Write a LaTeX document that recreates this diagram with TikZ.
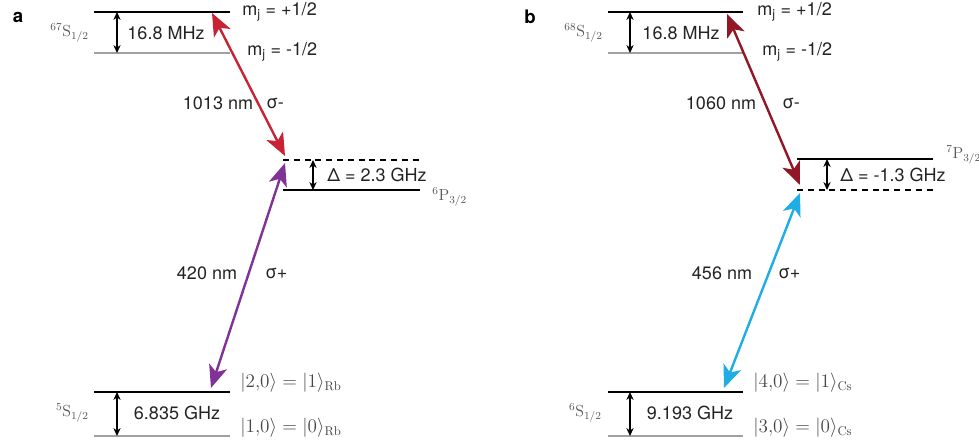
\documentclass[tikz,border=0pt]{standalone}
\usepackage{fontspec}
\setsansfont{TeX Gyre Heros}
\usetikzlibrary{arrows.meta}
\definecolor{cred}{RGB}{200,35,52}
\definecolor{cdred}{RGB}{146,22,38}
\definecolor{cpurple}{RGB}{128,50,150}
\definecolor{cblue}{RGB}{32,172,228}
\definecolor{ctext}{RGB}{35,35,35}
\definecolor{cterm}{RGB}{85,85,85}
\definecolor{cket}{RGB}{70,70,70}
\definecolor{clevel}{RGB}{160,160,160}
\tikzset{
  px/.style={x=0.75pt,y=-0.75pt},
  lvl/.style={line width=1.1pt},
  lvllow/.style={line width=1.1pt,clevel},
  virt/.style={line width=1pt,dash pattern=on 4.5pt off 3.6pt},
  split/.style={{Stealth[length=6pt,width=5.5pt]}-{Stealth[length=6pt,width=5.5pt]},line width=0.8pt},
  beam/.style={{Stealth[length=17pt,width=14pt,inset=4.5pt]}-{Stealth[length=17pt,width=14pt,inset=4.5pt]},line width=1.8pt},
  lbl/.style={font=\sffamily\fontsize{13.5}{16}\selectfont,text=ctext,inner sep=0pt},
  term/.style={font=\fontsize{12}{14}\selectfont,text=cterm,inner sep=0pt},
  ket/.style={font=\fontsize{13.6}{16}\selectfont,text=cket,inner sep=0pt,anchor=west},
  panel/.style={font=\sffamily\bfseries\fontsize{14}{16}\selectfont,inner sep=0pt},
}

\begin{document}
\begin{tikzpicture}[px]
  \useasboundingbox (0,0) rectangle (979,442);
  % --- panel a: Rb ---
  \node[panel] (pa) at (18,17) {a};
  \draw[lvl]    (94,12)  -- (230,12);
  \draw[lvllow] (94,53)  -- (230,53);
  \draw[virt]   (283,160) -- (420,160);
  \draw[lvl]    (283,190) -- (420,190);
  \draw[lvl]    (94,392) -- (230,392);
  \draw[lvllow] (94,436) -- (230,436);
  \draw[split] (117,12) -- (117,53);
  \draw[split] (313,160) -- (313,190);
  \draw[split] (117,392) -- (117,436);
  \coordinate (rydA) at (212,13);
  \coordinate (interA) at (285,156);
  \coordinate (virtA) at (285,163);
  \coordinate (gndA) at (211,388);
  \draw[beam,cred] (rydA) -- (interA);
  \draw[beam,cpurple] (virtA) -- (gndA);
  \node[lbl] (hfA) at (166,33) {16.8 MHz};
  \node[term,anchor=east] (rtA) at (89,33) {$^{67}\mathrm{S}_{1/2}$};
  \node[lbl,anchor=west] (mpA) at (242,12) {m\textsubscript{j} = +1/2};
  \node[lbl,anchor=west] (mmA) at (247,52) {m\textsubscript{j} = -1/2};
  \node[lbl] (wlA) at (218,103) {1013 nm};
  \node[lbl,anchor=west] (polA) at (266,103) {σ-};
  \node[lbl,anchor=west] (detA) at (327,175) {Δ = 2.3 GHz};
  \node[term,anchor=west] (ptA) at (432,197) {$^{6}\mathrm{P}_{3/2}$};
  \node[lbl] (wlbA) at (207,273) {420 nm};
  \node[lbl,anchor=west] (polbA) at (265,273) {σ+};
  \node[lbl] (gsA) at (177,413) {6.835 GHz};
  \node[term,anchor=east] (gtA) at (89,413) {$^{5}\mathrm{S}_{1/2}$};
  \node[ket] (kuA) at (240,383) {$|2{,}0\rangle = |1\rangle_{\mathrm{Rb}}$};
  \node[ket] (kdA) at (240,428) {$|1{,}0\rangle = |0\rangle_{\mathrm{Rb}}$};
  % --- panel b: Cs ---
  \node[panel] (pb) at (530,17) {b};
  \draw[lvl]    (608,12)  -- (743,12);
  \draw[lvllow] (608,53)  -- (743,53);
  \draw[lvl]    (797,159) -- (933,159);
  \draw[virt]   (797,190) -- (933,190);
  \draw[lvl]    (608,392) -- (743,392);
  \draw[lvllow] (608,436) -- (743,436);
  \draw[split] (630,12) -- (630,53);
  \draw[split] (827,159) -- (827,190);
  \draw[split] (630,392) -- (630,436);
  \coordinate (rydB) at (727,14);
  \coordinate (virtB) at (800,185);
  \coordinate (interB) at (800,193);
  \coordinate (gndB) at (724,388);
  \draw[beam,cdred] (rydB) -- (virtB);
  \draw[beam,cblue] (interB) -- (gndB);
  \node[lbl] (hfB) at (681,33) {16.8 MHz};
  \node[term,anchor=east] (rtB) at (603,33) {$^{68}\mathrm{S}_{1/2}$};
  \node[lbl,anchor=west] (mpB) at (757,12) {m\textsubscript{j} = +1/2};
  \node[lbl,anchor=west] (mmB) at (762,52) {m\textsubscript{j} = -1/2};
  \node[lbl] (wlB) at (721,103) {1060 nm};
  \node[lbl,anchor=west] (polB) at (782,103) {σ-};
  \node[lbl,anchor=west] (detB) at (840,175) {Δ = -1.3 GHz};
  \node[term,anchor=west] (ptB) at (946,155) {$^{7}\mathrm{P}_{3/2}$};
  \node[lbl] (wlbB) at (722,273) {456 nm};
  \node[lbl,anchor=west] (polbB) at (778,273) {σ+};
  \node[lbl] (gsB) at (690,413) {9.193 GHz};
  \node[term,anchor=east] (gtB) at (602,413) {$^{6}\mathrm{S}_{1/2}$};
  \node[ket] (kuB) at (753,383) {$|4{,}0\rangle = |1\rangle_{\mathrm{Cs}}$};
  \node[ket] (kdB) at (753,428) {$|3{,}0\rangle = |0\rangle_{\mathrm{Cs}}$};
\end{tikzpicture}
\end{document}
